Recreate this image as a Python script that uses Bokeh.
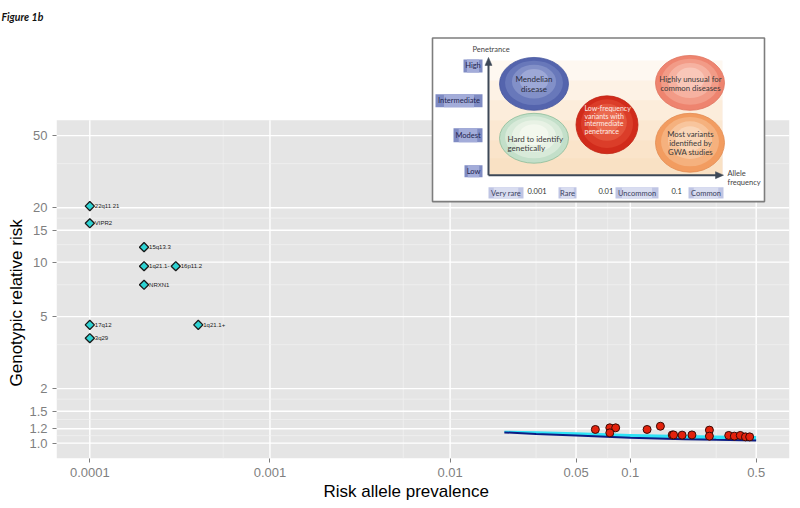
import numpy as np
from bokeh.plotting import figure
from bokeh.models import Range1d, LinearScale, FixedTicker, Title
from bokeh.embed import file_html
from bokeh.resources import INLINE
from bokeh.core.properties import value

# ---------------- data ----------------
x_ticks = [0.0001, 0.001, 0.01, 0.05, 0.1, 0.5]
x_tick_labels = ["0.0001", "0.001", "0.01", "0.05", "0.1", "0.5"]
y_ticks = [1.0, 1.2, 1.5, 2, 5, 10, 15, 20, 50]
y_tick_labels = ["1.0", "1.2", "1.5", "2", "5", "10", "15", "20", "50"]

cnv_labels = ["22q11.21", "VIPR2", "15q13.3", "1q21.1-", "16p11.2", "NRXN1", "17q12", "1q21.1+", "3q29"]
cnv_prev = [0.0001, 0.0001, 0.0002, 0.0002, 0.0003, 0.0002, 0.0001, 0.0004, 0.0001]
cnv_risk = [20.4, 16.4, 12.1, 9.5, 9.5, 7.5, 4.5, 4.5, 3.8]

snp_prev = [0.064, 0.077, 0.083, 0.077, 0.124, 0.147, 0.171, 0.174, 0.194, 0.220,
            0.275, 0.275, 0.352, 0.378, 0.408, 0.436, 0.460]
snp_risk = [1.19, 1.215, 1.215, 1.14, 1.19, 1.24, 1.11, 1.11, 1.107, 1.11,
            1.18, 1.093, 1.103, 1.093, 1.103, 1.083, 1.083]

power_prev = [0.02, 0.03, 0.05, 0.1, 0.2, 0.3, 0.5]
power_rr = [1.146, 1.124, 1.103, 1.070, 1.052, 1.044, 1.035]
power_rr_upper = [1.172, 1.163, 1.149, 1.124, 1.110, 1.103, 1.096]

x_title = "Risk allele prevalence"
y_title = "Genotypic relative risk"
fig_label = "Figure 1b"

# inset diagram texts
pen_levels = ["High", "Intermediate", "Modest", "Low"]
freq_levels = ["Very rare", "Rare", "Uncommon", "Common"]
freq_cuts = ["0.001", "0.01", "0.1"]
bubble_texts = [["Mendelian", "disease"],
                ["Hard to identify", "genetically"],
                ["Low-frequency", "variants with", "intermediate", "penetrance"],
                ["Highly unusual for", "common diseases"],
                ["Most variants", "identified by", "GWA studies"]]

FONT = "Liberation Sans"
IFONT = "Lato"

# canvas-pixel layout of the frame and grey panel
FRAME_L, FRAME_R, FRAME_T = 56, 789, 30
PANEL_T, PANEL_B = 120, 459


def minor(t):
    return [(a + b) / 2 for a, b in zip(t[:-1], t[1:])]


def expand(lo, hi, f=0.05):
    a, b = np.log10(lo), np.log10(hi)
    d = (b - a) * f
    return 10 ** (a - d), 10 ** (b + d)


x_lim = expand(min(x_ticks), max(x_ticks))
y_lim = expand(min(y_ticks), max(y_ticks))
dec = np.log10(y_lim[1] / y_lim[0])
ppd = (PANEL_B - PANEL_T) / dec
y_frame_top = 10 ** (np.log10(y_lim[1]) + (PANEL_T - FRAME_T) / ppd)

p = figure(width=FRAME_R + 3, height=PANEL_B + 41, x_axis_type="log", y_axis_type="log",
           x_range=Range1d(*x_lim), y_range=Range1d(y_lim[0], y_frame_top),
           output_backend="svg", toolbar_location=None,
           min_border_left=FRAME_L, min_border_right=3, min_border_top=FRAME_T, min_border_bottom=41)
p.background_fill_color = "white"
p.border_fill_color = "white"
p.outline_line_color = None
p.grid.visible = False

p.extra_x_ranges = {"px": Range1d(FRAME_L, FRAME_R)}
p.extra_y_ranges = {"py": Range1d(PANEL_B, FRAME_T)}
p.extra_x_scales = {"px": LinearScale()}
p.extra_y_scales = {"py": LinearScale()}
PX = {"x_range_name": "px", "y_range_name": "py"}

# grey panel
p.quad(left=[FRAME_L], right=[FRAME_R], top=[PANEL_T], bottom=[PANEL_B],
       fill_color="#E5E5E5", line_color=None, **PX)

# grid lines (minor then major) inside the panel
for ticks, col, w in [(minor(x_ticks), "#F2F2F2", 0.7), (x_ticks, "white", 1.4)]:
    p.segment(x0=ticks, y0=[y_lim[0]] * len(ticks), x1=ticks, y1=[y_lim[1]] * len(ticks),
              line_color=col, line_width=w)
for ticks, col, w in [(minor(y_ticks), "#F2F2F2", 0.7), (y_ticks, "white", 1.4)]:
    p.segment(x0=[x_lim[0]] * len(ticks), y0=ticks, x1=[x_lim[1]] * len(ticks), y1=ticks,
              line_color=col, line_width=w)

# axes
xt = FixedTicker(ticks=x_ticks, minor_ticks=[])
yt = FixedTicker(ticks=y_ticks, minor_ticks=[])
p.xaxis.ticker = xt
p.yaxis.ticker = yt
p.xaxis.major_label_overrides = dict(zip(x_ticks, x_tick_labels))
p.yaxis.major_label_overrides = dict(zip(y_ticks, y_tick_labels))
for ax in (p.xaxis[0], p.yaxis[0]):
    ax.axis_line_color = None
    ax.major_tick_line_color = "#7F7F7F"
    ax.major_tick_out = 4
    ax.major_tick_in = 0
    ax.minor_tick_line_color = None
    ax.major_label_text_color = "#7F7F7F"
    ax.major_label_text_font = FONT
    ax.major_label_text_font_size = "13px"
    ax.major_label_standoff = 5

p.title.text = fig_label
p.title.align = "left"
p.title.offset = -55
p.title.text_font = IFONT
p.title.text_font_size = "10.5px"
p.title.text_font_style = "bold italic"
p.title.text_color = "#111111"
p.title.standoff = 16

p.add_layout(Title(text=y_title, align="left", offset=72, text_font=FONT, text_font_size="17px",
                   text_font_style="normal", text_color="black", standoff=2), "left")
p.add_layout(Title(text=x_title, align="left", offset=267, text_font=FONT, text_font_size="17px",
                   text_font_style="normal", text_color="black", standoff=0), "below")


# ---------------- inset (canvas-pixel coordinates) ----------------
def draw_inset(f, rn):
    f.quad(left=[432], right=[764], top=[37.5], bottom=[201.5], fill_color="white",
           line_color="#7d7d7d", line_width=1.6, **rn)
    for top in [60, 80, 100, 120, 140, 158]:
        f.quad(left=[489], right=[722], top=[top], bottom=[175], fill_color="#F8D2A4",
               fill_alpha=0.15, line_color=None, **rn)
    geo = [(533.5, 83.5, 69, 53), (533.5, 138, 69, 50), (606.5, 124.5, 62, 58),
           (689.5, 82.5, 69, 55), (689.5, 142.5, 69, 59)]
    cols = [["#5464AD", "#6878BA", "#8290C8", "#9DA8D6"],
            ["#C3DFC9", "#D8EAD9", "#E8F2E5", "#F3F8EE"],
            ["#D12B1B", "#DB3D29", "#E4543C", "#EB6A4F"],
            ["#EE846F", "#F29B87", "#F6B2A1", "#F9C7B9"],
            ["#F29C60", "#F5B17E", "#F8C59D", "#FAD6B8"]]
    edge = ["#4858A0", "#8CBC99", "#BF2414", "#DF735E", "#E28B52"]
    for (cx, cy, w, h), cl, ec in zip(geo, cols, edge):
        for i, (s, c) in enumerate(zip([1.0, 0.84, 0.64, 0.42], cl)):
            f.ellipse(x=[cx], y=[cy - (1 - s) * h * 0.12], width=[w * s], height=[h * s],
                      fill_color=c, line_color=ec if i == 0 else None, line_width=0.8, **rn)
    tpos = [(533.5, [79, 88.5], "center", "#2a2c3c", "8px"),
            (507, [139, 148], "left", "#3a3a3a", "8px"),
            (584, [108, 115.5, 123, 130.5], "left", "#FDEDE6", "7px"),
            (690, [79, 88], "center", "#3a3a3a", "7.8px"),
            (690, [134, 143, 152], "center", "#3a3a3a", "7.8px")]
    for (tx, tys, al, tc, fs), lines in zip(tpos, bubble_texts):
        f.text(x=[tx] * len(lines), y=tys, text=lines, text_align=al, text_baseline="middle",
               text_font=value(IFONT), text_font_size=fs, text_color=tc, **rn)
    f.segment(x0=[488, 488], y0=[175, 175], x1=[488, 716], y1=[64, 175], line_color="#3D4857",
              line_width=2, **rn)
    f.patches(xs=[[484.5, 491.5, 488], [715, 715, 723]], ys=[[65, 65, 57], [171.5, 178.5, 175]],
              fill_color="#3D4857", line_color="#3D4857", line_width=0.5, **rn)
    pb = [(463, 482, 59, 72), (435, 482, 94, 107), (453, 482, 128, 142), (464, 482, 165, 177)]
    for (l, r, t, b), lab in zip(pb, pen_levels):
        f.quad(left=[l], right=[r], top=[t], bottom=[b], fill_color="#7F8BC3", line_color=None, **rn)
        f.quad(left=[l + (r - l) * 0.18], right=[r - (r - l) * 0.18], top=[t], bottom=[b],
               fill_color="#A3ACD9", line_color=None, **rn)
        f.text(x=[(l + r) / 2], y=[(t + b) / 2], text=[lab], text_align="center",
               text_baseline="middle", text_font=value(IFONT), text_font_size="7.5px",
               text_color="#1F2550", **rn)
    fb = [(488, 523), (558, 576), (615, 658), (688, 723)]
    for (l, r), lab in zip(fb, freq_levels):
        f.quad(left=[l], right=[r], top=[187], bottom=[198.5], fill_color="#BFC5E4", line_color=None, **rn)
        f.quad(left=[l + (r - l) * 0.15], right=[r - (r - l) * 0.15], top=[187], bottom=[198.5],
               fill_color="#D9DDF0", line_color=None, **rn)
        f.text(x=[(l + r) / 2], y=[193], text=[lab], text_align="center", text_baseline="middle",
               text_font=value(IFONT), text_font_size="7.5px", text_color="#3A3F60", **rn)
    f.text(x=[527, 598, 671], y=[190.5] * 3, text=freq_cuts, text_align="left", text_baseline="middle",
           text_font=value(IFONT), text_font_size="7.5px", text_color="#333333", **rn)
    f.text(x=[472], y=[49], text=["Penetrance"], text_align="left", text_baseline="middle",
           text_font=value(IFONT), text_font_size="7.5px", text_color="#444444", **rn)
    f.text(x=[727, 727], y=[173, 182], text=["Allele", "frequency"], text_align="left",
           text_baseline="middle", text_font=value(IFONT), text_font_size="7.5px",
           text_color="#444444", **rn)


draw_inset(p, PX)

# ribbon + fitted line
p.varea(x=power_prev, y1=power_rr, y2=power_rr_upper, fill_color="#2FE3F6", fill_alpha=1.0)
p.line(x=power_prev, y=power_rr, line_color="#0C1C84", line_width=2)

# SNP points
p.scatter(x=snp_prev, y=snp_risk, marker="circle", size=8, fill_color="#E3220C",
          line_color="#3A0A05", line_width=1)

# CNV diamonds and labels
p.scatter(x=cnv_prev, y=cnv_risk, marker="square", angle=np.pi / 4, size=6.5,
          fill_color="#2ED3D3", line_color="#1A1A1A", line_width=1.3)
p.text(x=cnv_prev, y=cnv_risk, text=cnv_labels, x_offset=5, text_align="left",
       text_baseline="middle", text_font=value(FONT), text_font_size="6px", text_color="#1A1A1A")

open("out.html", "w").write(file_html(p, INLINE, title="Figure 1b"))
